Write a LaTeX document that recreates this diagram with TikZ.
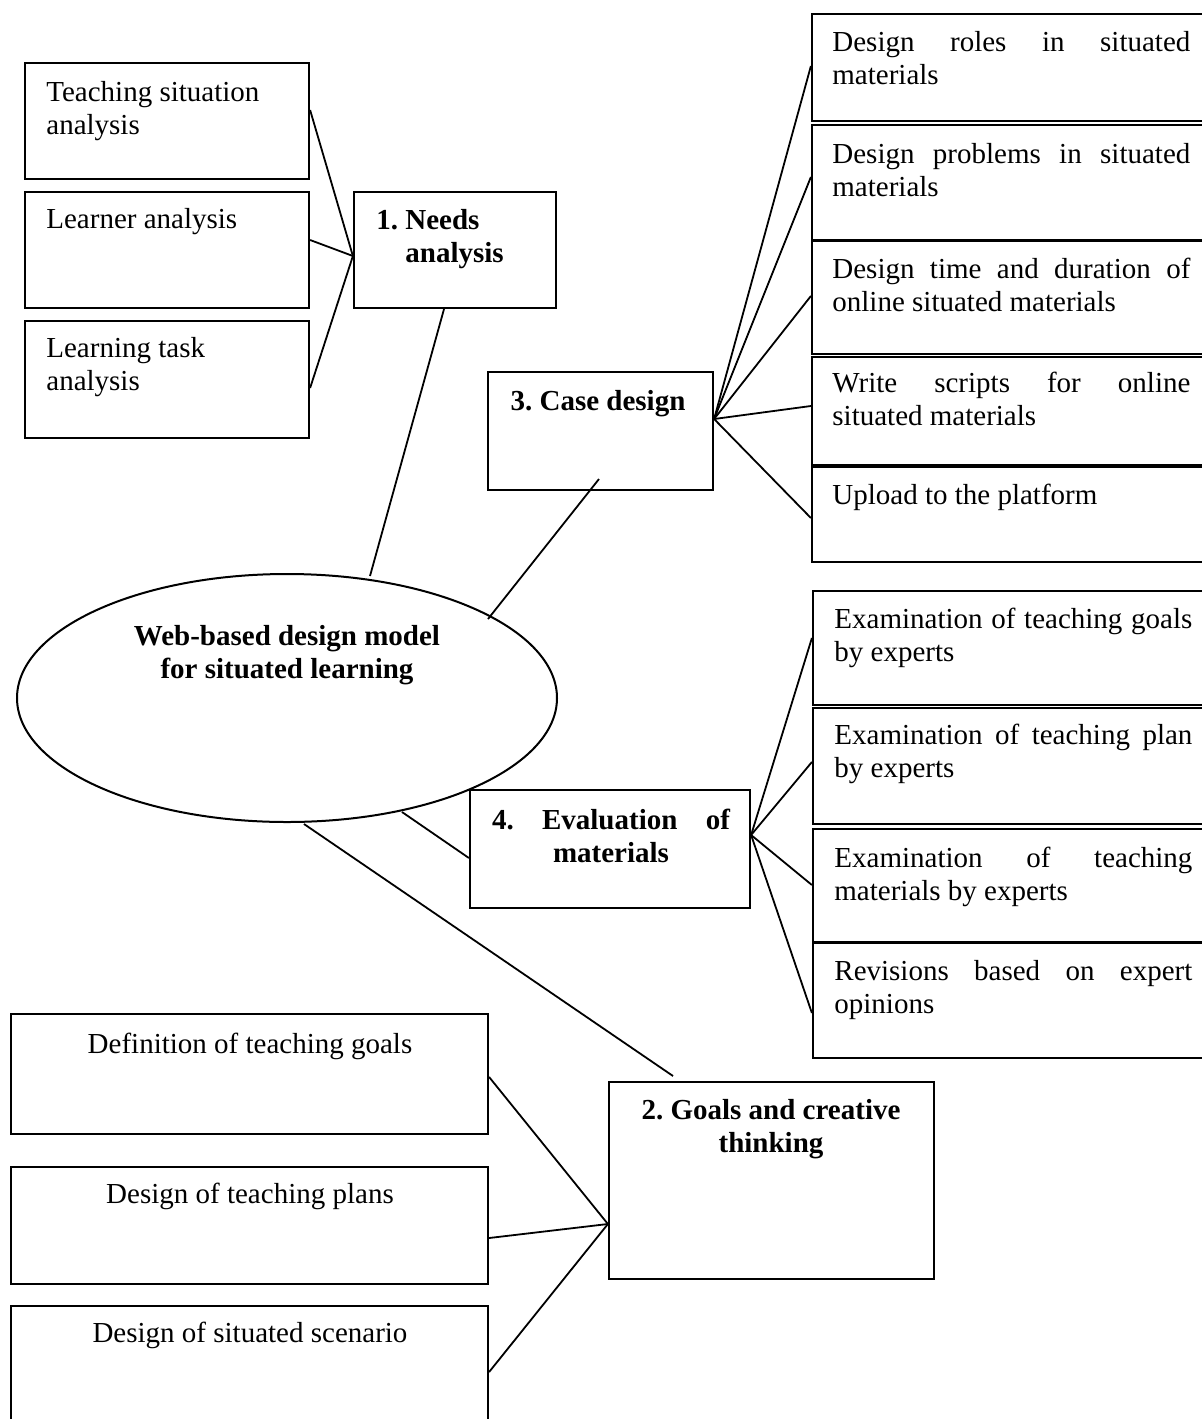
\documentclass[tikz,border=0pt]{standalone}
\usepackage{fontspec}
\setmainfont{Liberation Serif}
\usetikzlibrary{fit,shapes.geometric}
\newcommand\fsz{\fontsize{14.5pt}{16.5pt}\selectfont\frenchspacing}
\newcommand\jst[1]{\makebox[179pt][s]{#1}}
\begin{document}
\begin{tikzpicture}[x=0.5pt,y=-0.5pt,
  box/.style={rectangle, draw, line width=1.1pt, inner sep=0pt},
  conn/.style={line width=0.9pt},
  txt/.style={inner sep=0pt, anchor=base west, align=left, font=\fsz},
  ctxt/.style={inner sep=0pt, anchor=base, align=center, font=\fsz},
  bold/.style={font=\fsz\bfseries}]
\clip (0,0) rectangle (1202,1419);
\fill[white] (0,0) rectangle (1202,1419);

% ---- left: needs analysis group (multi-line texts are placed by their last baseline)
\node[box, fit={(25,63) (309,179)}] (tsa) {};
\node[box, fit={(25,192) (309,308)}] (learner) {};
\node[box, fit={(25,321) (309,438)}] (lta) {};
\node[box, fit={(354,192) (556,308)}] (needs) {};
\node[txt] (tsa-t) at (46,134) {Teaching situation\\analysis};
\node[txt] (learner-t) at (46,228) {Learner analysis};
\node[txt] (lta-t) at (46,390) {Learning task\\analysis};
\node[txt, bold] (needs-t) at (376,262) {1. Needs\\\hspace*{14.5pt}analysis};

% ---- case design group
\node[box, fit={(488,372) (713,490)}] (case) {};
\node[ctxt, bold] (case-t) at (598,410) {3. Case design};
\node[box, fit={(812,14) (1215,121)}] (r1) {};
\node[box, fit={(812,125) (1215,240)}] (r2) {};
\node[box, fit={(812,241) (1215,354)}] (r3) {};
\node[box, fit={(812,357) (1215,465)}] (r4) {};
\node[box, fit={(812,467) (1215,562)}] (r5) {};
\node[txt] (r1-t) at (832,84) {\jst{Design roles in situated}\\materials};
\node[txt] (r2-t) at (832,196) {\jst{Design problems in situated}\\materials};
\node[txt] (r3-t) at (832,311) {\jst{Design time and duration of}\\online situated materials};
\node[txt] (r4-t) at (832,425) {\jst{Write scripts for online}\\situated materials};
\node[txt] (r5-t) at (832,504) {Upload to the platform};

% ---- central ellipse
\node[draw, ellipse, line width=1pt, minimum width=270pt, minimum height=124pt, inner sep=0pt] (web) at (287,698) {};
\node[ctxt, bold] (web-t) at (287,678) {Web-based design model\\for situated learning};

% ---- evaluation group
\node[box, fit={(470,790) (750,908)}] (eval) {};
\node[ctxt, bold] (eval-t) at (611,862) {\hbox to 119pt{4.\hfill Evaluation\hfill of}\\materials};
\node[box, fit={(813,591) (1215,705)}] (e1) {};
\node[box, fit={(813,708) (1215,824)}] (e2) {};
\node[box, fit={(813,829) (1215,942)}] (e3) {};
\node[box, fit={(813,943) (1215,1058)}] (e4) {};
\node[txt] (e1-t) at (834,661) {\jst{Examination of teaching goals}\\by experts};
\node[txt] (e2-t) at (834,777) {\jst{Examination of teaching plan}\\by experts};
\node[txt] (e3-t) at (834,900) {\jst{Examination of teaching}\\materials by experts};
\node[txt] (e4-t) at (834,1013) {\jst{Revisions based on expert}\\opinions};

% ---- goals group
\node[box, fit={(609,1082) (934,1279)}] (goals) {};
\node[ctxt, bold] (goals-t) at (771,1152) {2. Goals and creative\\thinking};
\node[box, fit={(11,1014) (488,1134)}] (d1) {};
\node[box, fit={(11,1167) (488,1284)}] (d2) {};
\node[box, fit={(11,1306) (488,1440)}] (d3) {};
\node[ctxt] (d1-t) at (250,1053) {Definition of teaching goals};
\node[ctxt] (d2-t) at (250,1203) {Design of teaching plans};
\node[ctxt] (d3-t) at (250,1342) {Design of situated scenario};

% ---- free ends
\coordinate (webA) at (370,576);
\coordinate (webB) at (488,619);
\coordinate (webC) at (402,812);
\coordinate (webD) at (304,824);
\coordinate (caseIn) at (599,479);
\coordinate (goalsTop) at (673,1076);

% ---- connectors
\draw[conn] (tsa.east |- 0,110) -- (needs.west |- 0,256);
\draw[conn] (learner.east |- 0,240) -- (needs.west |- 0,256);
\draw[conn] (lta.east |- 0,388) -- (needs.west |- 0,256);
\draw[conn] (needs.south -| 444,0) -- (webA);

\draw[conn] (case.east |- 0,419) -- (r1.west |- 0,66);
\draw[conn] (case.east |- 0,419) -- (r2.west |- 0,177);
\draw[conn] (case.east |- 0,419) -- (r3.west |- 0,296);
\draw[conn] (case.east |- 0,419) -- (r4.west |- 0,406);
\draw[conn] (case.east |- 0,419) -- (r5.west |- 0,518);
\draw[conn] (caseIn) -- (webB);

\draw[conn] (eval.east |- 0,835) -- (e1.west |- 0,638);
\draw[conn] (eval.east |- 0,835) -- (e2.west |- 0,762);
\draw[conn] (eval.east |- 0,835) -- (e3.west |- 0,885);
\draw[conn] (eval.east |- 0,835) -- (e4.west |- 0,1013);
\draw[conn] (eval.west |- 0,858) -- (webC);

\draw[conn] (webD) -- (goalsTop);
\draw[conn] (d1.east |- 0,1077) -- (goals.west |- 0,1224);
\draw[conn] (d2.east |- 0,1238) -- (goals.west |- 0,1224);
\draw[conn] (d3.east |- 0,1372) -- (goals.west |- 0,1224);
\end{tikzpicture}
\end{document}
